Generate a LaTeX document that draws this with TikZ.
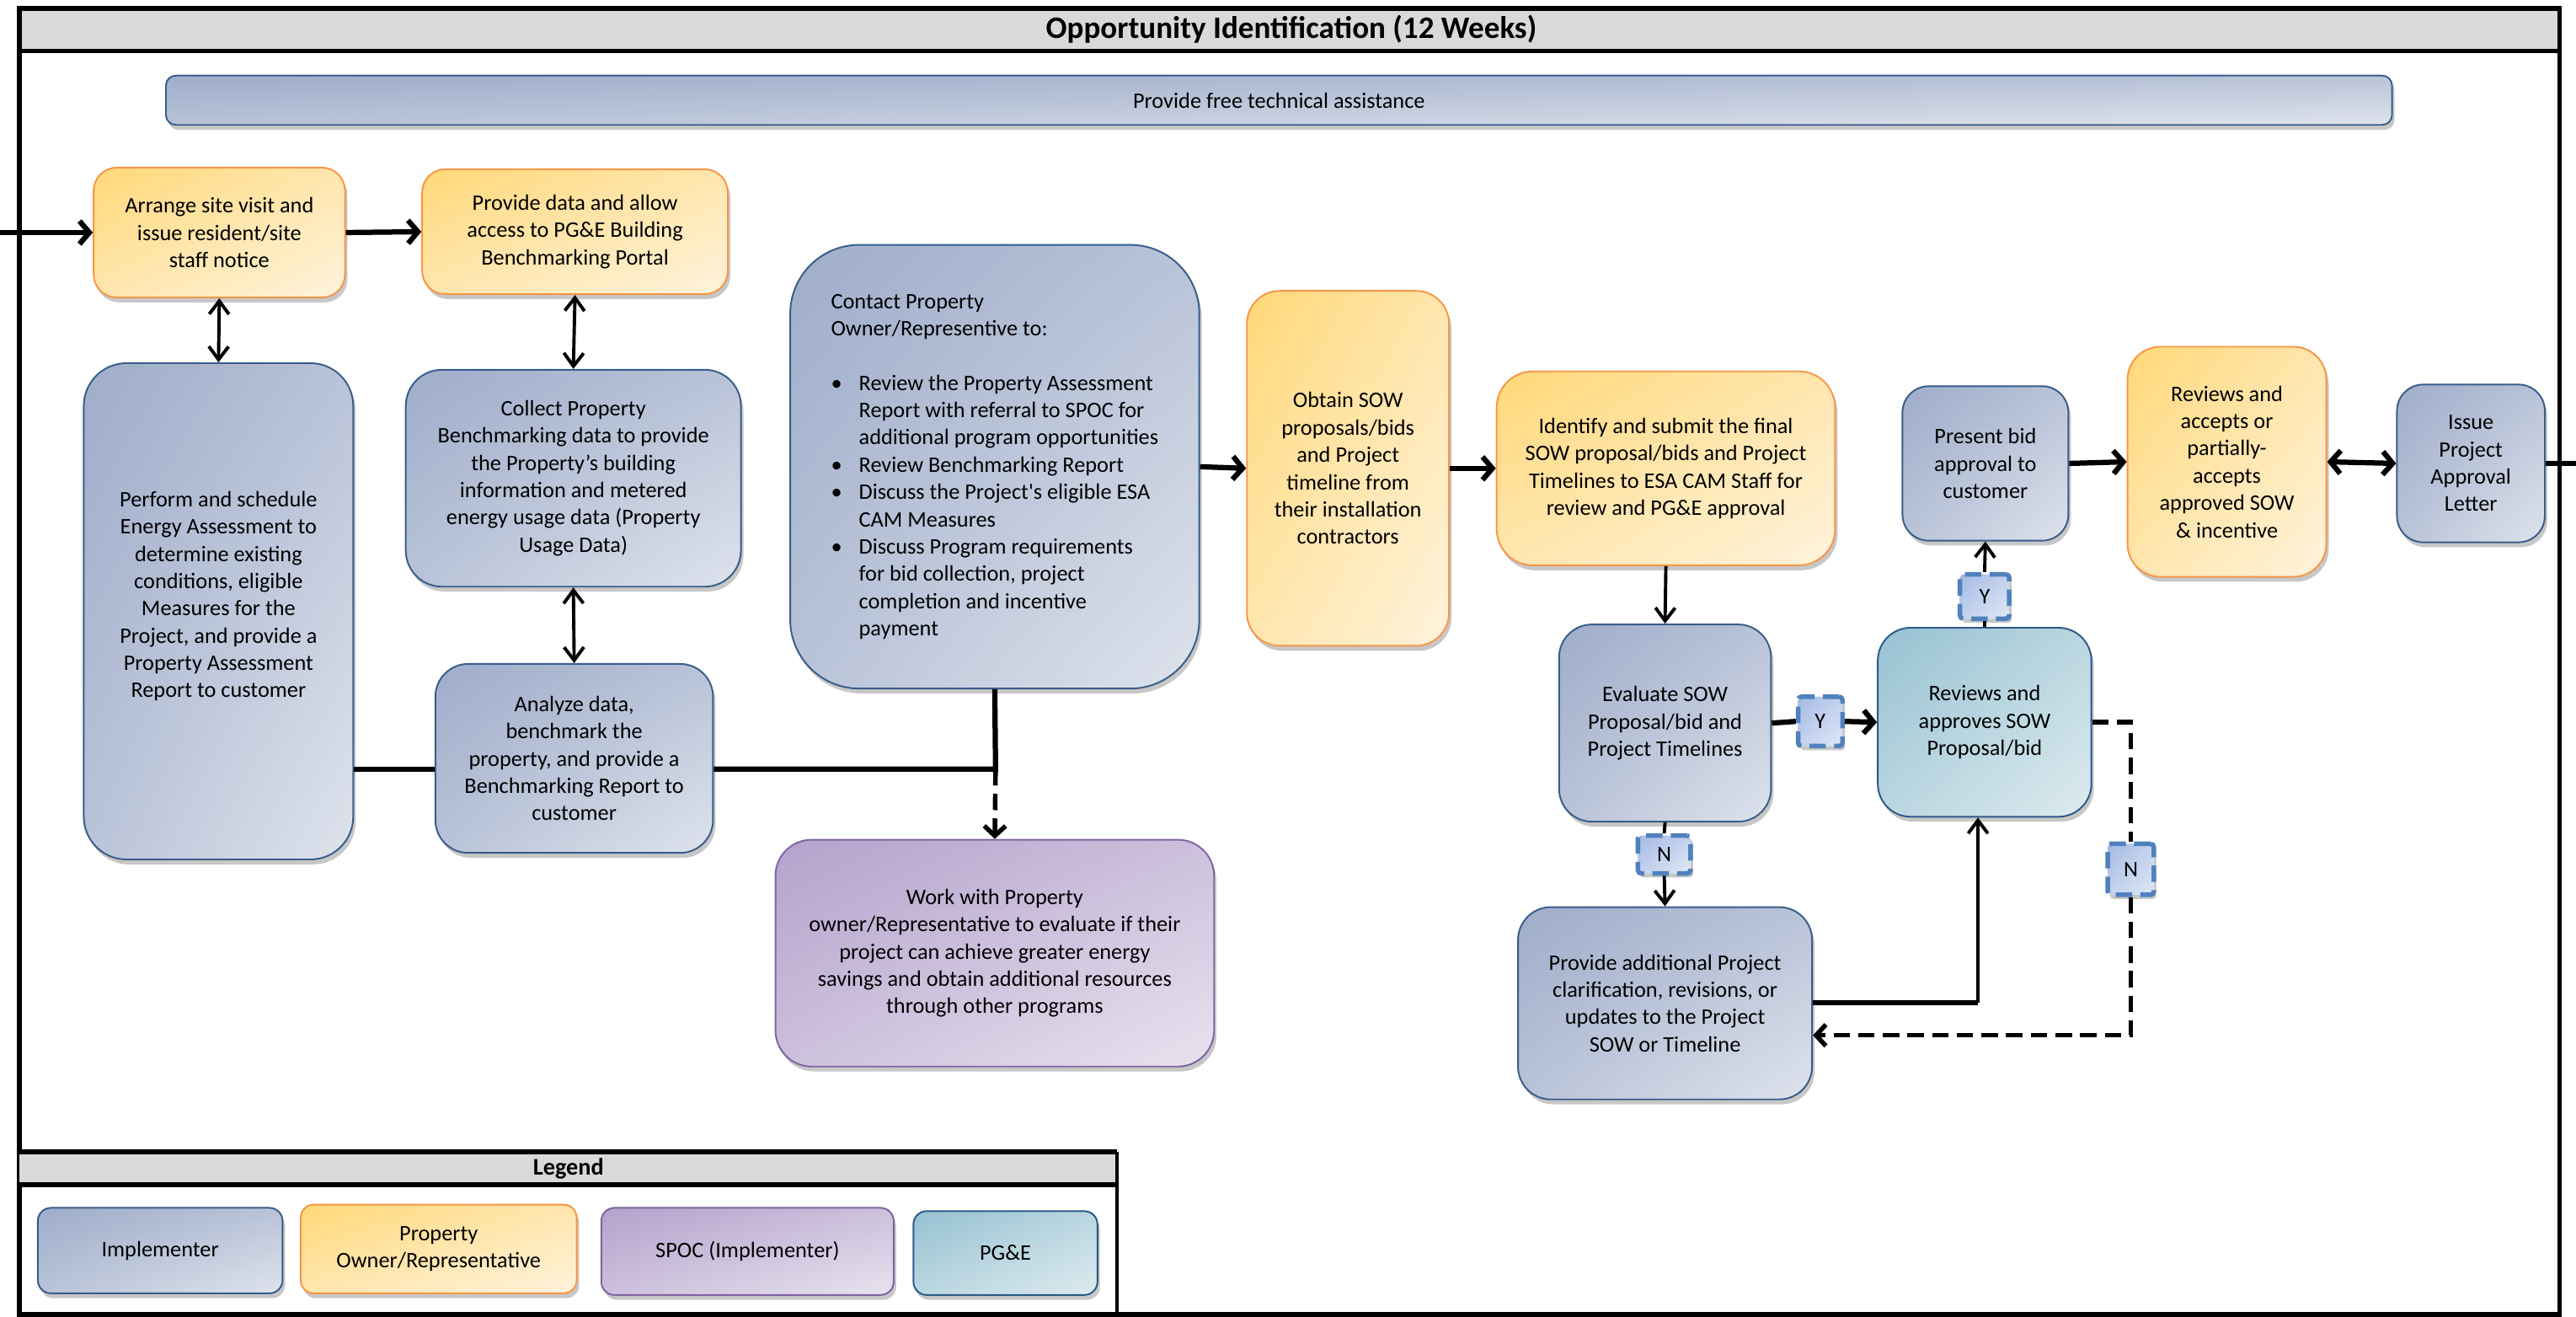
\documentclass[tikz,border=0pt]{standalone}
\usepackage{fontspec}
\setmainfont{Carlito}
\usetikzlibrary{arrows.meta,shadows,shadings}
\definecolor{bluA}{HTML}{9FADCA}
\definecolor{bluB}{HTML}{B9C3D8}
\definecolor{bluC}{HTML}{DEE3EC}
\definecolor{bluD}{HTML}{385D8A}
\definecolor{oraA}{HTML}{FFD878}
\definecolor{oraB}{HTML}{FFE6AE}
\definecolor{oraC}{HTML}{FFF3DD}
\definecolor{oraD}{HTML}{F79646}
\definecolor{purA}{HTML}{B4A2CC}
\definecolor{purB}{HTML}{CCC0DC}
\definecolor{purC}{HTML}{E8E3EF}
\definecolor{purD}{HTML}{8064A2}
\definecolor{teaA}{HTML}{96C1D2}
\definecolor{teaB}{HTML}{BAD6E0}
\definecolor{teaC}{HTML}{DDEBEF}
\definecolor{teaD}{HTML}{2C5A88}
\definecolor{labA}{HTML}{A4B9E4}
\definecolor{labB}{HTML}{C4D2EE}
\definecolor{labC}{HTML}{DFE7F6}
\definecolor{labD}{HTML}{4F81BD}
\definecolor{bargray}{HTML}{D9D9D9}
\newcommand{\normtxt}{\fontsize{13.5}{16.6}\selectfont}
\newcommand{\mybul}{\makebox[17pt][l]{\textbullet}}
\newcommand{\myind}{\hspace*{17pt}}
\tikzset{
  base/.style={draw, line width=1pt, align=center, font=\normtxt, inner sep=2pt,
    drop shadow={shadow xshift=1.5pt, shadow yshift=-3pt, opacity=0.22, fill=black}},
  rc/.style={rounded corners=#1},
  implbox/.style={base, draw=bluD, upper left=bluA, upper right=bluB, lower left=bluB, lower right=bluC},
  ownbox/.style={base, draw=oraD, upper left=oraA, upper right=oraB, lower left=oraB, lower right=oraC},
  spocbox/.style={base, draw=purD, upper left=purA, upper right=purB, lower left=purB, lower right=purC},
  pgebox/.style={base, draw=teaD, upper left=teaA, upper right=teaB, lower left=teaB, lower right=teaC},
  yn/.style={draw=labD, line width=2.8pt, dash pattern=on 10pt off 5pt, rounded corners=2pt,
    upper left=labA, upper right=labB, lower left=labB, lower right=labC,
    font=\normtxt, inner sep=0pt,
    drop shadow={shadow xshift=1.5pt, shadow yshift=-2.5pt, opacity=0.22, fill=black}},
  thickln/.style={line width=3.2pt},
  thinln/.style={line width=2pt},
  thickarr/.style={line width=3.2pt, -{Straight Barb[length=6pt,width=14pt]}},
  thinarr/.style={line width=2pt, -{Straight Barb[length=8pt,width=12pt]}},
  dblarr/.style={line width=2pt, {Straight Barb[length=8pt,width=12pt]}-{Straight Barb[length=8pt,width=12pt]}},
  thickdbl/.style={line width=3.2pt, {Straight Barb[length=6pt,width=14pt]}-{Straight Barb[length=6pt,width=14pt]}},
  dashln/.style={line width=2.8pt, dash pattern=on 10pt off 5pt},
  dasharr/.style={dashln, -{Straight Barb[length=6pt,width=13pt]}},
}
\begin{document}
\begin{tikzpicture}[x=1pt,y=-1pt]
\useasboundingbox (0,0) rectangle (1568,801);
% frame and title bar
\fill[bargray] (12,5) rectangle (1558,31);
\draw[line width=3pt] (12,5) rectangle (1558,800);
\draw[line width=3pt] (12,31) -- (1558,31);
\node[font=\bfseries\fontsize{19}{22}\selectfont] (title) at (786,18) {Opportunity Identification (12 Weeks)};
% legend frame
\fill[bargray] (12,701) rectangle (680,721);
\draw[line width=3pt] (12,701) -- (680,701);
\draw[line width=3pt] (12,721) -- (680,721);
\draw[line width=2.2pt] (680,701) -- (680,800);
\node[font=\bfseries\fontsize{14.5}{17}\selectfont] (legtitle) at (346,711) {Legend};

% banner
\node[implbox, rc=6pt, minimum width=1355pt, minimum height=30pt] (banner) at (778.5,61) {Provide free technical assistance};

% nodes
\node[ownbox, rc=14pt, minimum width=153pt, minimum height=79pt] (A1) at (133.5,141.5)
  {Arrange site visit and\\issue resident/site\\staff notice};
\node[ownbox, rc=14pt, minimum width=186pt, minimum height=76pt] (A2) at (350,141)
  {Provide data and allow\\access to PG\&E Building\\Benchmarking Portal};
\node[implbox, rc=26pt, minimum width=164pt, minimum height=302pt] (B1) at (133,372)
  {Perform and schedule\\Energy Assessment to\\determine existing\\conditions, eligible\\Measures for the\\Project, and provide a\\Property Assessment\\Report to customer\\[4pt]};
\node[implbox, rc=22pt, minimum width=204pt, minimum height=132pt] (B2) at (349,291)
  {Collect Property\\Benchmarking data to provide\\the Property’s building\\information and metered\\energy usage data (Property\\Usage Data)};
\node[implbox, rc=20pt, minimum width=169pt, minimum height=115pt] (B3) at (349.5,461.5)
  {Analyze data,\\benchmark the\\property, and provide a\\Benchmarking Report to\\customer};
\node[implbox, rc=42pt, minimum width=249pt, minimum height=270pt, align=left] (C) at (605.5,284)
  {Contact Property\\Owner/Representive to:\\[16.6pt]
   \mybul Review the Property Assessment\\
   \myind Report with referral to SPOC for\\
   \myind additional program opportunities\\
   \mybul Review Benchmarking Report\\
   \mybul Discuss the Project\textquotesingle s eligible ESA\\
   \myind CAM Measures\\
   \mybul Discuss Program requirements\\
   \myind for bid collection, project\\
   \myind completion and incentive\\
   \myind payment};
\node[spocbox, rc=22pt, minimum width=267pt, minimum height=138pt] (D) at (605.5,580)
  {Work with Property\\owner/Representative to evaluate if their\\project can achieve greater energy\\savings and obtain additional resources\\through other programs};
\node[ownbox, rc=20pt, minimum width=123pt, minimum height=216pt] (E) at (820.5,285)
  {Obtain SOW\\proposals/bids\\and Project\\timeline from\\their installation\\contractors};
\node[ownbox, rc=22pt, minimum width=206pt, minimum height=118pt] (F) at (1014,285)
  {Identify and submit the final\\SOW proposal/bids and Project\\Timelines to ESA CAM Staff for\\review and PG\&E approval};
\node[implbox, rc=20pt, minimum width=129pt, minimum height=120pt] (G) at (1013.5,440)
  {Evaluate SOW\\Proposal/bid and\\Project Timelines};
\node[pgebox, rc=20pt, minimum width=130pt, minimum height=115pt] (H) at (1208,439.5)
  {Reviews and\\approves SOW\\Proposal/bid};
\node[implbox, rc=16pt, minimum width=101pt, minimum height=94pt] (I) at (1208.5,282)
  {Present bid\\approval to\\customer};
\node[ownbox, rc=20pt, minimum width=121pt, minimum height=140pt] (J) at (1355.5,281)
  {Reviews and\\accepts or\\partially-\\accepts\\approved SOW\\\& incentive};
\node[implbox, rc=16pt, minimum width=90pt, minimum height=96pt] (K) at (1504,282)
  {Issue\\Project\\Approval\\Letter};
\node[implbox, rc=20pt, minimum width=179pt, minimum height=117pt] (L) at (1013.5,610.5)
  {Provide additional Project\\clarification, revisions, or\\updates to the Project\\SOW or Timeline};

% Y / N labels
\node[yn, minimum width=27pt, minimum height=30pt] (Y1) at (1108,439) {Y};
\node[yn, minimum width=30pt, minimum height=27pt] (Y2) at (1208,363) {Y};
\node[yn, minimum width=32pt, minimum height=23pt] (N1) at (1013,520) {N};
\node[yn, minimum width=28pt, minimum height=31pt] (N2) at (1297,529) {N};

% legend boxes
\node[implbox, rc=8pt, minimum width=149pt, minimum height=52pt] (lg1) at (97.5,761) {Implementer};
\node[ownbox, rc=8pt, minimum width=168pt, minimum height=54pt] (lg2) at (267,760) {Property\\Owner/Representative};
\node[spocbox, rc=8pt, minimum width=178pt, minimum height=53pt] (lg3) at (455,761.5) {SPOC (Implementer)};
\node[pgebox, rc=8pt, minimum width=112pt, minimum height=51pt] (lg4) at (612,762.5) {PG\&E};

% helper coordinates
\coordinate (inL) at (0,141.5);
\coordinate (outR) at (1568,282);
\coordinate (jn) at (606,468);
\coordinate (lh) at (1204,610);
\coordinate (hd2) at (1297,630);

% connectors
\draw[thickarr] (inL) -- (A1.west);
\draw[thickarr] (A1.east) -- (A2.west);
\draw[dblarr] (A1.south) -- (B1.north);
\draw[dblarr] (A2.south) -- (B2.north);
\draw[dblarr] (B2.south) -- (B3.north);
\draw[thickln] (B1.east |- jn) -- (B3.west |- jn);
\draw[thickln] (B3.east |- jn) -- (jn) -- (C.south);
\draw[dasharr] (jn) -- (D.north);
\draw[thickarr] (C.east) -- (E.west);
\draw[thickarr] (E.east) -- (F.west);
\draw[thinarr] (F.south) -- (G.north);
\draw[thickln] (G.east) -- (Y1.west);
\draw[thickarr] (Y1.east) -- (H.west);
\draw[thinln] (H.north) -- (Y2.south);
\draw[thinarr] (Y2.north) -- (I.south);
\draw[thickarr] (I.east) -- (J.west);
\draw[thickdbl] (J.east) -- (K.west);
\draw[thickln] (K.east) -- (outR);
\draw[thinln] (G.south) -- (N1.north);
\draw[thinarr] (N1.south) -- (L.north);
\draw[thickln] (L.east |- lh) -- (lh);
\draw[thinarr] (lh) -- (lh |- H.south);
\draw[dashln] (H.east) -- (H.east -| N2) -- (N2.north);
\draw[dasharr] (N2.south) -- (hd2) -- (L.east |- hd2);
\end{tikzpicture}
\end{document}
